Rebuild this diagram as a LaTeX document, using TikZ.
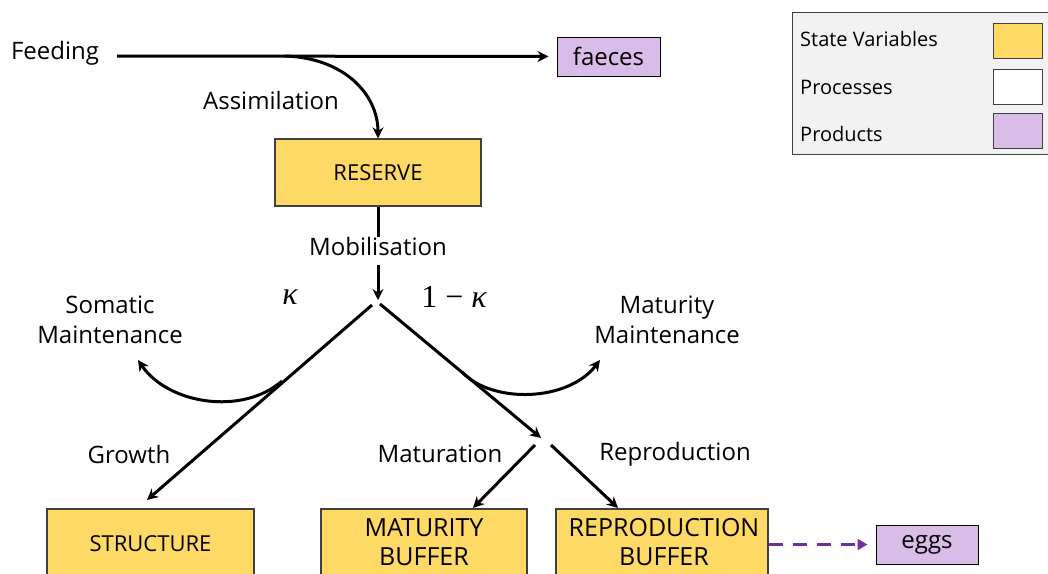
\documentclass[tikz,border=0pt]{standalone}
\usepackage{fontspec}
\setmainfont{Open Sans}
\newfontfamily\kapfont{Liberation Serif}
\usetikzlibrary{arrows.meta}
\definecolor{stateY}{HTML}{FFD966}
\definecolor{prodP}{HTML}{D9BCE8}
\definecolor{legBG}{HTML}{F2F2F2}
\definecolor{edgeG}{HTML}{404040}
\definecolor{eggP}{HTML}{7030A0}
\begin{document}
\begin{tikzpicture}[x=1pt,y=-1pt,
  lbl/.style={font=\fontsize{24}{30}\selectfont, inner sep=0pt, align=center},
  statebox/.style={draw=edgeG, line width=1.2pt, fill=stateY, font=\fontsize{22}{26}\selectfont, align=center, inner sep=0pt},
  bigtxt/.style={font=\fontsize{25}{29}\selectfont, align=center, inner sep=0pt},
  prodbox/.style={draw=black, line width=1pt, fill=prodP, font=\fontsize{24}{28}\selectfont, inner sep=0pt},
  flow/.style={line width=3pt, draw=black},
  flowarr/.style={flow, -{Stealth[length=11pt,width=11pt]}},
  legtxt/.style={font=\fontsize{20}{24}\selectfont, inner sep=0pt, anchor=west},
  kaptxt/.style={font=\kapfont\fontsize{32}{36}\selectfont, inner sep=0pt},
  swatch/.style={draw=edgeG, line width=1pt, minimum width=49pt, minimum height=35pt, inner sep=0pt}
]
\useasboundingbox (0,0) rectangle (1048,573);
\begin{scope}
\clip (0,0) rectangle (1048,573);
% legend
\node[draw=edgeG, line width=1pt, fill=legBG, minimum width=256pt, minimum height=142pt, inner sep=0pt] (legend) at (920,83) {};
\node[legtxt] (lsv) at (800,39) {State Variables};
\node[legtxt] (lpr) at (800,87) {Processes};
\node[legtxt] (lpd) at (800,134) {Products};
\node[swatch, fill=stateY] (sw1) at (1017.5,41) {};
\node[swatch, fill=white] (sw2) at (1017.5,86.5) {};
\node[swatch, fill=prodP] (sw3) at (1017.5,130.5) {};

% top
\node[lbl] (feeding) at (55,53) {Feeding};
\node[prodbox, minimum width=103pt, minimum height=39pt] (faeces) at (608.5,56.5) {faeces};
\coordinate (fstart) at (117,56);
\coordinate (abranch) at (285,56);
\draw[flowarr, shorten >=8pt] (fstart) -- (faeces.west);
\node[statebox, minimum width=206pt, minimum height=67pt] (reserve) at (378,172.5) {RESERVE};
\draw[flowarr] (abranch) .. controls (345,58) and (378,95) .. (reserve.north);
\node[lbl] (assim) at (271,100) {Assimilation};

% mobilisation
\node[lbl] (mobil) at (378,246) {Mobilisation};
\coordinate (mobtop) at (378,265);
\coordinate (split) at (378,300);
\draw[flow] (reserve.south) -- (mobil.north);
\draw[flowarr] (mobtop) -- (split);
\node[kaptxt] (kap) at (290,297) {\itshape κ};
\node[kaptxt] (omk) at (454,297) {1 − \itshape κ};

% structure branch
\node[statebox, minimum width=207pt, minimum height=75pt] (structure) at (150.5,546.5) {};
\node[statebox, draw=none, fill=none] (structtxt) at (150.5,544) {STRUCTURE};
\coordinate (lstart) at (372,305);
\coordinate (lend) at (147,500);
\draw[flowarr] (lstart) -- (lend);
\node[lbl] (somatic) at (110,320) {Somatic\\Maintenance};
\coordinate (sstart) at (282,381);
\coordinate (send) at (138,360);
\draw[flowarr] (sstart) .. controls (242,416) and (168,404) .. (send);
\node[lbl] (growth) at (129,454) {Growth};

% maturity branch
\coordinate (rstart) at (380,304);
\coordinate (rend) at (541,438);
\draw[flowarr] (rstart) -- (rend);
\node[lbl] (matmaint) at (667,320) {Maturity\\Maintenance};
\coordinate (mstart) at (462,372);
\coordinate (mend) at (600,360);
\draw[flowarr] (mstart) .. controls (492,404) and (568,402) .. (mend);

\node[lbl] (maturation) at (440,454) {Maturation};
\node[lbl] (reproduction) at (675,454) {Reproduction};
\node[statebox, minimum width=206pt, minimum height=75pt] (matbuf) at (424,546.5) {};
\node[bigtxt] (matbuftxt) at (424,542.5) {MATURITY\\BUFFER};
\node[statebox, minimum width=212pt, minimum height=75pt] (repbuf) at (662,546.5) {};
\node[bigtxt] (repbuftxt) at (664,542.5) {REPRODUCTION\\BUFFER};
\node[prodbox, minimum width=102pt, minimum height=39pt] (eggs) at (927,544.5) {eggs};
\coordinate (mbs) at (535,445);
\coordinate (mbe) at (473,508);
\coordinate (rbs) at (551,445);
\coordinate (rbe) at (618,508);
\draw[flowarr] (mbs) -- (mbe);
\draw[flowarr] (rbs) -- (rbe);
\draw[line width=3pt, draw=eggP, dash pattern=on 14pt off 10pt, -{Triangle[length=10pt,width=11pt]}, shorten >=8pt] (repbuf.east |- eggs.west) -- (eggs.west);
\end{scope}
\end{tikzpicture}
\end{document}
